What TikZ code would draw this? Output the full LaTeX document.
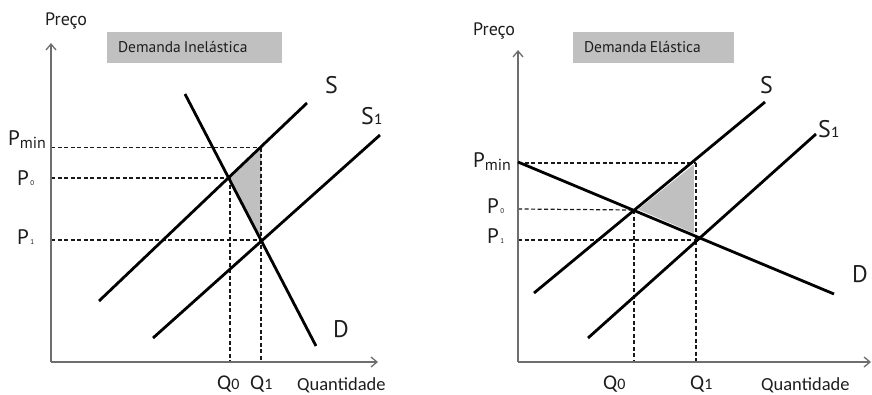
\documentclass[tikz,border=0pt]{standalone}
\usepackage{fontspec}
\setmainfont{PT Sans}
\newfontfamily\calib{Carlito}
\usetikzlibrary{arrows.meta}
\definecolor{boxgray}{RGB}{192,192,192}
\definecolor{axisgray}{RGB}{110,110,110}
\definecolor{txt}{RGB}{30,30,30}
\tikzset{
  curve/.style={line width=2.8pt, black},
  guide/.style={line width=1.2pt, black!90, dash pattern=on 4pt off 2.5pt},
  axisline/.style={line width=1.3pt, axisgray, -{Straight Barb[length=6pt,width=10pt]}},
  shade/.style={fill=boxgray},
  lbl/.style={inner sep=0pt, anchor=base west, text=txt},
  titlebox/.style={fill=boxgray, minimum height=31pt, inner sep=0pt, align=left, text=txt, font=\fontsize{15.5}{15.5}\selectfont},
}
\newcommand{\bigP}{\fontsize{21}{21}\selectfont P}
\newcommand{\tinysub}[1]{\hspace{1.5pt}{\fontsize{7}{7}\selectfont #1}}
\newcommand{\qlab}[1]{{\calib\fontsize{21}{21}\selectfont Q\fontsize{16}{16}\selectfont #1}}
\newcommand{\curvelab}[1]{\fontsize{24}{24}\selectfont #1}
\begin{document}
\begin{tikzpicture}[x=1pt,y=-1pt]
\useasboundingbox (0,0) rectangle (872,394);
\fill[white] (0,0) rectangle (872,394);

% ================= LEFT PANEL =================
\coordinate (Lo) at (51,362);
\coordinate (Ly) at (51,43);
\coordinate (Lx) at (378,362);
\coordinate (LE0) at (229,178);   % S x D
\coordinate (LSq) at (261,147.5); % S at Q1
\coordinate (LE1) at (261,240);   % S1 x D
\coordinate (LPmin) at (51,147.5);
\coordinate (LP0) at (51,178);
\coordinate (LP1) at (51,240);
\coordinate (LQ0top) at (230,178);
\coordinate (LQ0) at (230,362);
\coordinate (LQ1) at (261,362);

\fill[shade] (LE0) -- (LSq) -- (LE1) -- cycle;

\draw[guide] (LPmin) -- (LSq);
\draw[guide] (LP0) -- (LE0);
\draw[guide] (LP1) -- (LE1);
\draw[guide] (LQ0top) -- (LQ0);
\draw[guide] (LSq) -- (LQ1);

\draw[axisline] (Lo) -- (Ly);
\draw[axisline] (Lo) -- (Lx);

\coordinate (LSa) at (99,301);  \coordinate (LSb) at (307,103);
\coordinate (LS1a) at (153,338); \coordinate (LS1b) at (380,135);
\coordinate (LDa) at (185,94);  \coordinate (LDb) at (316,346);
\draw[curve] (LSa) -- (LSb);
\draw[curve] (LS1a) -- (LS1b);
\draw[curve] (LDa) -- (LDb);

\node[titlebox, minimum width=175pt, text width=153pt] (LT) at (194.5,47.5) {Demanda\hspace{3pt}Inelástica};
\node[lbl] (Lpreco) at (45,25) {\fontsize{18}{18}\selectfont Preço};
\node[lbl] (Lqt) at (297,390) {\calib\fontsize{18.5}{18.5}\selectfont Quantidade};
\node[lbl] (LSl) at (325,93) {\curvelab{S}};
\node[lbl] (LS1l) at (361,124) {\curvelab{S}{\calib\fontsize{16}{16}\selectfont 1}};
\node[lbl] (LDl) at (333,337) {\curvelab{D}};
\node[lbl] (LPminl) at (8,145) {\bigP\raisebox{-3pt}{\fontsize{16}{16}\selectfont min}};
\node[lbl] (LP0l) at (17,185) {\bigP\tinysub{0}};
\node[lbl] (LP1l) at (17,244) {\bigP\tinysub{1}};
\node[lbl] (LQ0l) at (217,389) {\qlab{0}};
\node[lbl] (LQ1l) at (250,389) {\qlab{1}};

% ================= RIGHT PANEL =================
\coordinate (Ro) at (518,362);
\coordinate (Ry) at (518,50);
\coordinate (Rx) at (871,362);
\coordinate (RE0) at (634,210);
\coordinate (RSq) at (696,160);
\coordinate (RDq) at (696,236.5);
\coordinate (RE1) at (699,238);
\coordinate (RPminE) at (696,163);
\coordinate (RPmin) at (518,163);
\coordinate (RP0) at (518,209);
\coordinate (RP1) at (518,240);
\coordinate (RP1e) at (696,240);
\coordinate (RQ0) at (634,362);
\coordinate (RQ1) at (696,362);

\filldraw[shade, draw=white, line width=4pt, line join=round] (RE0) -- (RSq) -- (RDq) -- cycle;

\draw[guide] (RPmin) -- (RPminE);
\draw[guide] (RP0) -- (RE0);
\draw[guide] (RP1) -- (RP1e);
\draw[guide] (RE0) -- (RQ0);
\draw[guide] (RPminE) -- (RQ1);

\draw[axisline] (Ro) -- (Ry);
\draw[axisline] (Ro) -- (Rx);

\coordinate (RSa) at (534,293);  \coordinate (RSb) at (765,102);
\coordinate (RS1a) at (588,338); \coordinate (RS1b) at (816,134);
\coordinate (RDa) at (518,162);  \coordinate (RDb) at (834,294);
\draw[curve] (RSa) -- (RSb);
\draw[curve] (RS1a) -- (RS1b);
\draw[curve] (RDa) -- (RDb);

\node[titlebox, minimum width=161pt, text width=139pt] (RT) at (653.5,47.5) {Demanda\hspace{3pt}Elástica};
\node[lbl] (Rpreco) at (473,35) {\fontsize{18}{18}\selectfont Preço};
\node[lbl] (Rqt) at (761,390) {\calib\fontsize{18.5}{18.5}\selectfont Quantidade};
\node[lbl] (RSl) at (760,93) {\curvelab{S}};
\node[lbl] (RS1l) at (818,137) {\curvelab{S}{\calib\fontsize{16}{16}\selectfont 1}};
\node[lbl] (RDl) at (852,282) {\curvelab{D}};
\node[lbl] (RPminl) at (473,167) {\bigP\raisebox{-3pt}{\fontsize{16}{16}\selectfont min}};
\node[lbl] (RP0l) at (487,213) {\bigP\tinysub{0}};
\node[lbl] (RP1l) at (487,243) {\bigP\tinysub{1}};
\node[lbl] (RQ0l) at (603,389) {\qlab{0}};
\node[lbl] (RQ1l) at (690,389) {\qlab{1}};
\end{tikzpicture}
\end{document}
